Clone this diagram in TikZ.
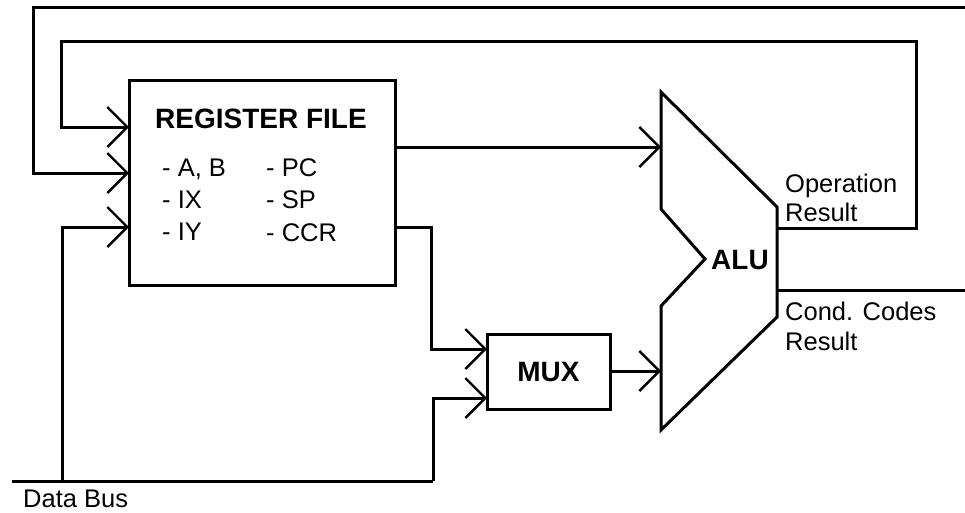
\documentclass[tikz,border=0pt]{standalone}
\usepackage{fontspec}
\setmainfont{Liberation Sans}
\usetikzlibrary{arrows.meta}
\begin{document}
\begin{tikzpicture}[x=1pt,y=-1pt,
  wire/.style={line width=3pt},
  arr/.style={wire,-{Straight Barb[length=20pt,width=40pt,line width=2.4pt]}},
  blk/.style={draw,line width=3pt,inner sep=0pt,outer sep=0pt},
  lbl/.style={font=\fontsize{25.5}{30}\selectfont,anchor=base west,inner sep=0pt},
  bold/.style={font=\bfseries\fontsize{28}{32}\selectfont,inner sep=0pt}
]
\useasboundingbox (0,0) rectangle (965,512);
% blocks
\node[blk,minimum width=266pt,minimum height=205pt] (reg) at (262,182.5) {};
\node[blk,minimum width=123pt,minimum height=75pt] (mux) at (548.5,371.5) {};
\node[bold] (muxt) at (548.5,371.5) {MUX};
\draw[wire,line join=miter] (661,92) -- (777,207) -- (777,317) -- (661,430) -- (661,306) -- (705,259) -- (661,209) -- cycle;
\node[bold,anchor=base west] (alut) at (711,269) {ALU};
% coordinates
\coordinate (rin1) at (129,127);
\coordinate (rin2) at (129,173);
\coordinate (rin3) at (129,227);
\coordinate (rout1) at (395,147);
\coordinate (rout2) at (395,227);
\coordinate (min1) at (487,349);
\coordinate (min2) at (487,398);
\coordinate (mout) at (610,371);
\coordinate (ain1) at (661,147);
\coordinate (ain2) at (661,371);
\coordinate (aop) at (777,228);
\coordinate (acc) at (777,290);
\coordinate (topedge) at (965,7);
\coordinate (ccedge) at (965,290);
\coordinate (busstart) at (12,481);
\coordinate (busjoin) at (62,481);
% texts
\node[bold,anchor=base west] (rft) at (155,128) {REGISTER FILE};
\node[lbl] (t1) at (162,176) {- A, B};
\node[lbl] (t2) at (162,208) {- IX};
\node[lbl] (t3) at (162,240) {- IY};
\node[lbl] (t4) at (266,176) {- PC};
\node[lbl] (t5) at (266,208) {- SP};
\node[lbl] (t6) at (266,241) {- CCR};
\node[lbl] (op1) at (785,192) {Operation};
\node[lbl] (op2) at (785,221) {Result};
\node[lbl] (cc1) at (785,320) {Cond. Codes};
\node[lbl] (cc2) at (785,350) {Result};
\node[lbl] (db) at (23,507) {Data Bus};
% connectors
\draw[arr] (topedge) -- (33,7) -- (33,173) -- (rin2);
\draw[arr] (aop) -- (916,228) -- (916,41) -- (61,41) -- (61,127) -- (rin1);
\draw[wire] (busstart) -- (433,481);
\draw[arr] (433,481) -- (433,398) -- (min2);
\draw[arr] (busjoin) -- (62,227) -- (rin3);
\draw[arr] (rout1) -- (ain1);
\draw[arr] (rout2) -- (431,227) -- (431,349) -- (min1);
\draw[arr] (mout) -- (ain2);
\draw[wire] (acc) -- (ccedge);
\end{tikzpicture}
\end{document}
